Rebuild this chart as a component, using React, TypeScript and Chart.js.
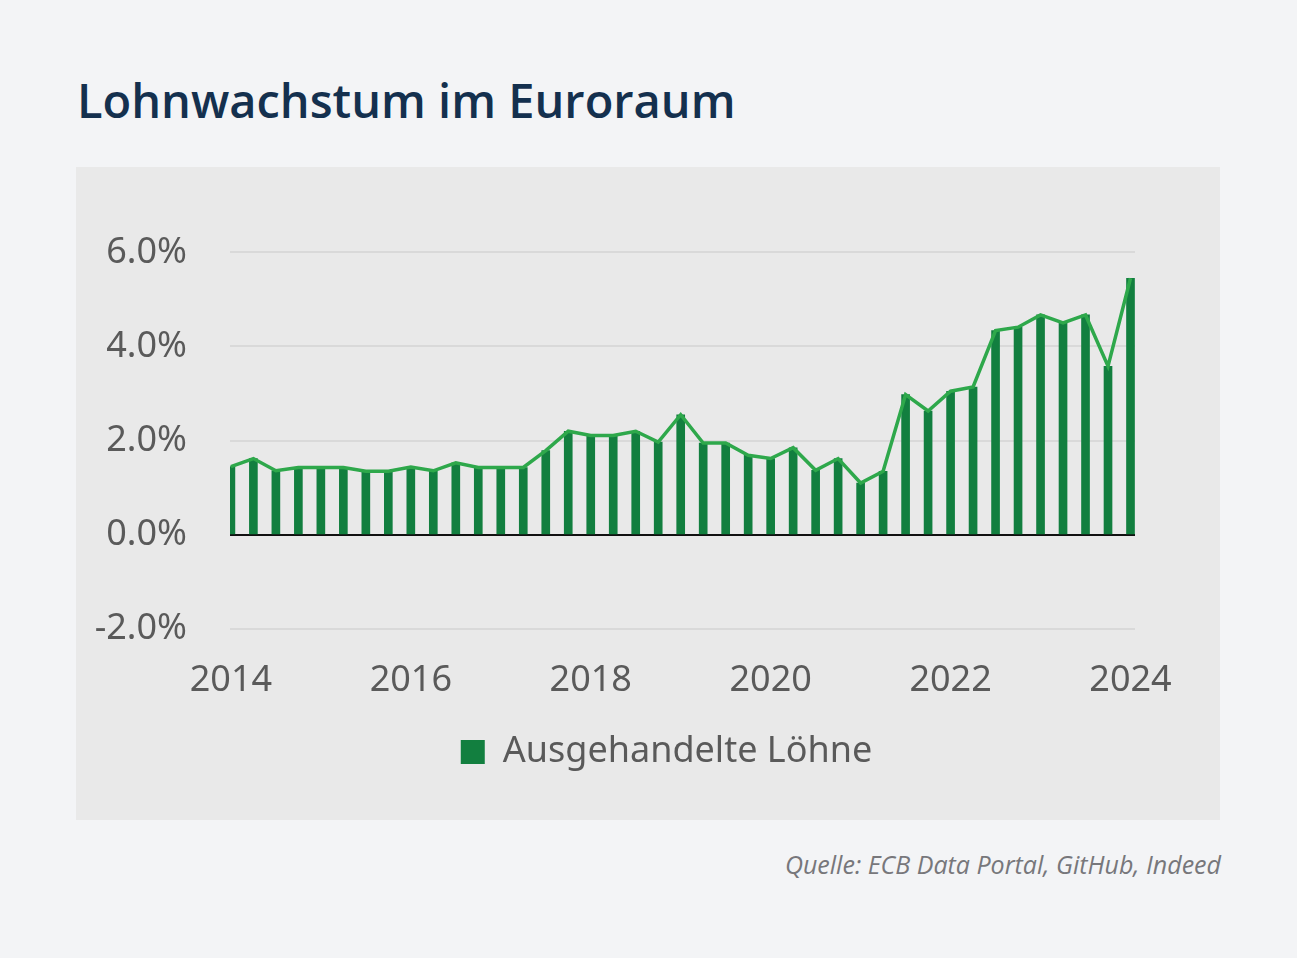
import React, { useEffect, useRef } from "react";
import { Chart, registerables } from "chart.js";

Chart.register(...registerables);

const quarters: string[] = [
  "2014Q1","2014Q2","2014Q3","2014Q4",
  "2015Q1","2015Q2","2015Q3","2015Q4",
  "2016Q1","2016Q2","2016Q3","2016Q4",
  "2017Q1","2017Q2","2017Q3","2017Q4",
  "2018Q1","2018Q2","2018Q3","2018Q4",
  "2019Q1","2019Q2","2019Q3","2019Q4",
  "2020Q1","2020Q2","2020Q3","2020Q4",
  "2021Q1","2021Q2","2021Q3","2021Q4",
  "2022Q1","2022Q2","2022Q3","2022Q4",
  "2023Q1","2023Q2","2023Q3","2023Q4",
  "2024Q1",
];

const wages: number[] = [
  1.45, 1.62, 1.36, 1.43, 1.43, 1.43, 1.35, 1.35, 1.44, 1.36, 1.53, 1.43, 1.43, 1.43,
  1.79, 2.2, 2.11, 2.11, 2.2, 1.97, 2.55, 1.95, 1.95, 1.69, 1.62, 1.85, 1.37, 1.62,
  1.1, 1.35, 2.98, 2.63, 3.05, 3.14, 4.34, 4.41, 4.67, 4.5, 4.67, 3.58, 5.45,
];

const yTicks: number[] = [-2, 0, 2, 4, 6];
const xTicks: number[] = [2014, 2016, 2018, 2020, 2022, 2024];

const seriesLabel = "Ausgehandelte Löhne";
const titleText = "Lohnwachstum im Euroraum";
const sourceText = "Quelle: ECB Data Portal, GitHub, Indeed";

const BAR_COLOR = "#127f3f";
const LINE_COLOR = "#2ea84b";
const TEXT_COLOR = "#5a5a5a";
const FONT = "'Noto Sans', 'Open Sans', sans-serif";

function quarterToX(q: string): number {
  const year = parseInt(q.slice(0, 4), 10);
  const qi = parseInt(q.slice(5), 10);
  return year + (qi - 1) / 4;
}

const legendShift = {
  id: "legendShift",
  afterLayout(chart: any) {
    const lg = chart.legend;
    if (lg) {
      lg.left += 61;
      lg.right += 61;
    }
  },
};

export default function App() {
  const canvasRef = useRef<HTMLCanvasElement | null>(null);

  useEffect(() => {
    document.body.style.margin = "0";
    document.body.style.background = "#f3f4f6";
    const points = quarters.map((q, i) => ({ x: quarterToX(q), y: wages[i] }));
    const ctx = canvasRef.current!.getContext("2d")!;
    const chart = new Chart(ctx, {
      type: "bar",
      data: {
        datasets: [
          {
            type: "line",
            label: "line",
            data: points,
            borderColor: LINE_COLOR,
            borderWidth: 3.5,
            pointRadius: 0,
            tension: 0,
            order: 0,
          } as any,
          {
            type: "bar",
            label: seriesLabel,
            data: points,
            backgroundColor: BAR_COLOR,
            borderWidth: 0,
            barThickness: 8,
            order: 1,
          } as any,
        ],
      },
      plugins: [legendShift],
      options: {
        animation: false,
        responsive: false,
        maintainAspectRatio: false,
        layout: { padding: { top: 0, right: 85, bottom: 40, left: 0 } },
        plugins: {
          tooltip: { enabled: false },
          legend: {
            position: "bottom",
            labels: {
              filter: (item: any) => item.text !== "line",
              boxWidth: 24,
              boxHeight: 24,
              color: TEXT_COLOR,
              font: { family: FONT, size: 36 },
              padding: 10,
            },
          },
        },
        scales: {
          x: {
            type: "linear",
            offset: false,
            min: 2013.99,
            max: 2024.05,
            afterBuildTicks: (scale: any) => {
              scale.ticks = xTicks.map((v) => ({ value: v }));
            },
            afterFit: (scale: any) => {
              scale.height = 95;
            },
            grid: { display: false, drawTicks: false, offset: false },
            border: { display: false },
            ticks: {
              color: TEXT_COLOR,
              font: { family: FONT, size: 36 },
              padding: 30,
              maxRotation: 0,
              callback: (v: any) => String(v),
            },
          },
          y: {
            min: -2,
            max: 6.44,
            afterBuildTicks: (scale: any) => {
              scale.ticks = yTicks.map((v) => ({ value: v }));
            },
            afterFit: (scale: any) => {
              scale.width = 154;
            },
            grid: {
              drawTicks: false,
              color: (c: any) => (c.tick && c.tick.value === 0 ? "#111111" : "#d9d9d9"),
              lineWidth: 2,
            },
            border: { display: false },
            ticks: {
              color: TEXT_COLOR,
              font: { family: FONT, size: 36 },
              padding: 43,
              callback: (v: any) => Number(v).toFixed(1) + "%",
            },
          },
        },
      },
    });
    return () => chart.destroy();
  }, []);

  return (
    <div style={{ position: "relative", width: 1297, height: 958, background: "#f3f4f6" }}>
      <div
        style={{
          position: "absolute",
          left: 77,
          top: 70,
          fontFamily: "'Open Sans', 'Noto Sans', sans-serif",
          fontWeight: 600,
          fontSize: 47,
          lineHeight: "60px",
          color: "#14304e",
          whiteSpace: "nowrap",
        }}
      >
        {titleText}
      </div>
      <div
        style={{
          position: "absolute",
          left: 76,
          top: 167,
          width: 1144,
          height: 653,
          background: "#e9e9e9",
        }}
      >
        <canvas ref={canvasRef} width={1144} height={653} style={{ display: "block" }} />
      </div>
      <div
        style={{
          position: "absolute",
          right: 1297 - 1221,
          top: 847,
          fontFamily: "'Open Sans', 'Noto Sans', sans-serif",
          fontStyle: "italic",
          fontSize: 25,
          lineHeight: "34px",
          color: "#77777b",
          whiteSpace: "nowrap",
        }}
      >
        {sourceText}
      </div>
    </div>
  );
}
